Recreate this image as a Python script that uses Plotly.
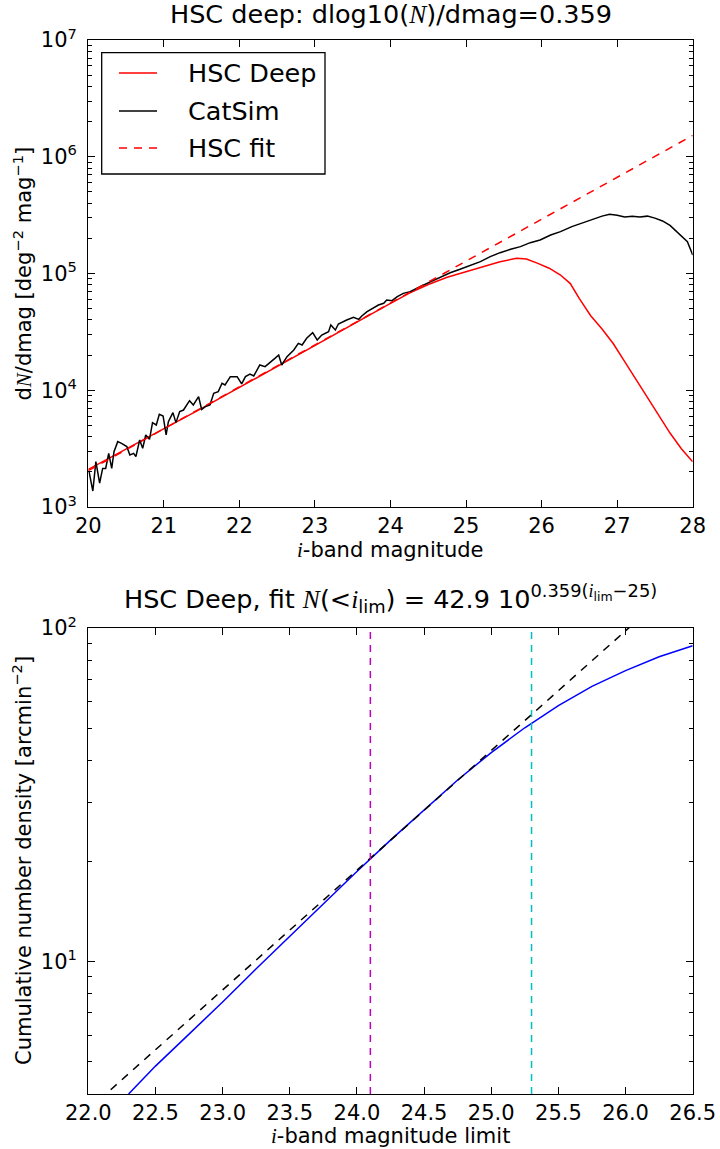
import numpy as np
import plotly.graph_objects as go

# ---------------- top panel data ----------------
hsc_mag = [20.00, 20.25, 20.50, 20.75, 21.00, 21.25, 21.50, 21.75, 22.00, 22.25,
           22.50, 22.75, 23.00, 23.25, 23.50, 23.75, 24.00, 24.25, 24.50, 24.75,
           25.00, 25.25, 25.45, 25.67, 25.80, 25.95, 26.10, 26.25, 26.38, 26.50,
           26.65, 26.80, 26.95, 27.10, 27.25, 27.40, 27.55, 27.70, 27.85, 28.00]
hsc_dn = [2100, 2560, 3150, 3820, 4700, 5700, 7000, 8600, 10600, 13000,
          16000, 19800, 24300, 30000, 36800, 45200, 55500, 68000, 80500, 93000,
          104000, 115000, 126000, 135000, 133000, 122000, 111000, 97000, 82000, 61000,
          43500, 33500, 25000, 17600, 12300, 8600, 6000, 4300, 3160, 2440]

catsim_mag = [20.01, 20.06, 20.10, 20.15, 20.19, 20.23, 20.27, 20.31, 20.34, 20.39,
              20.44, 20.51, 20.55, 20.60, 20.63, 20.68, 20.72, 20.76, 20.81, 20.85,
              20.90, 20.94, 20.99, 21.03, 21.06, 21.12, 21.16, 21.21, 21.26, 21.34,
              21.39, 21.46, 21.50, 21.55, 21.61, 21.66, 21.72, 21.77, 21.81, 21.88,
              21.97, 22.03, 22.08, 22.14, 22.19, 22.27, 22.34, 22.41, 22.47, 22.52,
              22.56, 22.63, 22.72, 22.78, 22.83, 22.89, 22.97, 23.03, 23.09, 23.18,
              23.21, 23.27, 23.31, 23.42, 23.51, 23.58, 23.62, 23.69, 23.78, 23.84,
              23.91, 23.95, 24.02, 24.09, 24.17, 24.26, 24.39, 24.53, 24.66, 24.79,
              24.92, 25.06, 25.19, 25.32, 25.45, 25.59, 25.72, 25.85, 25.98, 26.12,
              26.25, 26.40, 26.60, 26.80, 26.90, 27.00, 27.10, 27.20, 27.30, 27.40,
              27.50, 27.60, 27.70, 27.79, 27.87, 27.93, 28.00]
catsim_dn = [2010, 1370, 2450, 1600, 2140, 2140, 2880, 2140, 2980, 3630,
             3510, 3290, 2790, 2880, 2700, 3750, 3180, 4140, 3800, 5280,
             5040, 6220, 6020, 4140, 5380, 6430, 5280, 6560, 6770, 8140,
             7480, 8810, 6860, 7240, 7480, 9410, 9730, 11470, 11090, 13080,
             13080, 11320, 13080, 13780, 13250, 16450, 15920, 17570, 18760, 20050,
             16450, 19400, 22120, 25230, 24410, 27850, 31150, 26950, 29730, 31760,
             36220, 32820, 36940, 39960, 42130, 40500, 43250, 47120, 50980, 53730,
             55530, 59320, 58530, 63330, 67630, 69900, 77100, 85100, 93900, 101600,
             108600, 118300, 126300, 139400, 150800, 161100, 169800, 183700, 193600, 213700,
             228200, 252000, 280000, 310000, 322000, 316000, 305000, 310000, 305000, 310000,
             298000, 282000, 258000, 228000, 205000, 187000, 144000]

fit_mag = [20.0, 28.0]
fit_dn = [2046, 1.523e6]

legend_names = ["HSC Deep", "CatSim", "HSC fit"]
legend_colors = ["#ff0000", "#000000", "#ff0000"]
legend_dashes = ["solid", "solid", "8px,7px"]

top_xticks = [20, 21, 22, 23, 24, 25, 26, 27, 28]
top_yticks = [1e3, 1e4, 1e5, 1e6, 1e7]
top_yticktext = ["10<sup>3</sup>", "10<sup>4</sup>", "10<sup>5</sup>", "10<sup>6</sup>", "10<sup>7</sup>"]

# ---------------- bottom panel data ----------------
cum_mag = [22.30, 22.50, 22.75, 23.00, 23.25, 23.50, 23.75, 24.00, 24.25, 24.50,
           24.75, 25.00, 25.25, 25.50, 25.75, 26.00, 26.25, 26.50]
cum_n = [4.00, 4.85, 6.05, 7.55, 9.50, 11.9, 14.9, 18.6, 23.1, 28.5,
         35.0, 42.3, 50.2, 58.5, 66.8, 74.5, 82.0, 88.5]
cumfit_mag = [22.0, 26.5]
cumfit_n = [3.59, 148.3]
vline_mags = [24.1, 25.3]
vline_colors = ["#bf00bf", "#00bfbf"]

bot_yticks = [10, 100]
bot_yticktext = ["10<sup>1</sup>", "10<sup>2</sup>"]

# ---------------- geometry ----------------
W, H = 720, 1149
def px(x):
    return x / W
def py(y):
    return 1 - y / H

L, R = 88.3, 692.7
T1, B1 = 40, 507
T2, B2 = 628, 1094

FONT = "DejaVu Sans"
MATH = "font-family:Liberation Serif;font-style:italic"
TICK = 21
LABEL = 21
BIG = 25.5

def mi(s):
    return f'<span style="{MATH}">{s}</span>'

fig = go.Figure()

fig.add_trace(go.Scatter(x=hsc_mag, y=hsc_dn, mode="lines", name=legend_names[0],
                         line=dict(color=legend_colors[0], width=1.5, dash=legend_dashes[0]),
                         xaxis="x", yaxis="y", showlegend=False))
fig.add_trace(go.Scatter(x=catsim_mag, y=catsim_dn, mode="lines", name=legend_names[1],
                         line=dict(color=legend_colors[1], width=1.5, dash=legend_dashes[1]),
                         xaxis="x", yaxis="y", showlegend=False))
fig.add_trace(go.Scatter(x=fit_mag, y=fit_dn, mode="lines", name=legend_names[2],
                         line=dict(color=legend_colors[2], width=1.5, dash=legend_dashes[2]),
                         xaxis="x", yaxis="y", showlegend=False))

fig.add_trace(go.Scatter(x=cum_mag, y=cum_n, mode="lines", showlegend=False,
                         line=dict(color="#0000ff", width=1.5),
                         xaxis="x2", yaxis="y2"))
fig.add_trace(go.Scatter(x=cumfit_mag, y=cumfit_n, mode="lines", showlegend=False,
                         line=dict(color="#000000", width=1.5, dash="8px,7px"),
                         xaxis="x2", yaxis="y2"))

for v, c in zip(vline_mags, vline_colors):
    fig.add_shape(type="line", xref="x2", yref="y2 domain", x0=v, x1=v, y0=0, y1=1,
                  line=dict(color=c, width=1.5, dash="7px,6px"))

axis_common = dict(showline=True, linecolor="black", linewidth=1.3, mirror="ticks",
                   ticks="inside", ticklen=7, tickwidth=1.2, tickcolor="black",
                   showgrid=False, zeroline=False, automargin=False,
                   tickfont=dict(family=FONT, size=TICK, color="black"))

minor_top = [k * 10 ** d for d in range(3, 7) for k in range(2, 10)]
minor_bot = [k for k in range(4, 10)] + [k * 10 for k in range(2, 10)]

fig.update_layout(
    width=W, height=H,
    margin=dict(l=0, r=0, t=0, b=0),
    paper_bgcolor="white", plot_bgcolor="white",
    font=dict(family=FONT, color="black"),
    showlegend=False,
    xaxis=dict(domain=[px(L), px(R)], anchor="y", range=[20, 28],
               tickmode="array", tickvals=top_xticks, ticklabelstandoff=0, **axis_common),
    yaxis=dict(domain=[py(B1), py(T1)], anchor="x", type="log", range=[3, 7],
               tickmode="array", tickvals=top_yticks, ticktext=top_yticktext,
               ticklabelstandoff=6,
               minor=dict(tickmode="array", tickvals=minor_top, ticks="inside",
                          ticklen=3.5, tickcolor="black", tickwidth=1, showgrid=False),
               **axis_common),
    xaxis2=dict(domain=[px(L), px(R)], anchor="y2", range=[22, 26.5],
                tickmode="linear", tick0=22, dtick=0.5, tickformat=".1f",
                ticklabelstandoff=0, **axis_common),
    yaxis2=dict(domain=[py(B2), py(T2)], anchor="x2", type="log",
                range=[np.log10(4.0), 2],
                tickmode="array", tickvals=bot_yticks, ticktext=bot_yticktext,
                ticklabelstandoff=6,
                minor=dict(tickmode="array", tickvals=minor_bot, ticks="inside",
                           ticklen=3.5, tickcolor="black", tickwidth=1, showgrid=False),
                **axis_common),
)

# legend box (drawn like the matplotlib legend)
LEG_L, LEG_R, LEG_T, LEG_B = 101.7, 325, 52.7, 174
fig.add_shape(type="rect", xref="paper", yref="paper",
              x0=px(LEG_L), x1=px(LEG_R), y0=py(LEG_B), y1=py(LEG_T),
              line=dict(color="black", width=1.3), fillcolor="white", layer="above")
row_y = [73, 111, 148]
ann = []
for name, col, dsh, yy in zip(legend_names, legend_colors, legend_dashes, row_y):
    fig.add_shape(type="line", xref="paper", yref="paper",
                  x0=px(119), x1=px(157), y0=py(yy), y1=py(yy),
                  line=dict(color=col, width=1.5, dash=dsh), layer="above")
    ann.append(dict(text=name, x=px(186), y=py(yy), xanchor="left", yanchor="middle",
                    font=dict(size=BIG)))

cx = px((L + R) / 2)
# titles
ann.append(dict(text=f"HSC deep: dlog10({mi('N')})/dmag=0.359", x=cx, y=py(31),
                yanchor="bottom", font=dict(size=BIG)))
ann.append(dict(text=(f"HSC Deep, fit {mi('N')}(&lt;{mi('i')}<sub>lim</sub>) = 42.9 "
                      f"10<sup>0.359({mi('i')}<sub>lim</sub>−25)</sup>"),
                x=cx, y=py(619), yanchor="bottom", font=dict(size=BIG)))
# x labels
ann.append(dict(text=f"{mi('i')}-band magnitude", x=cx, y=py(550), yanchor="middle",
                font=dict(size=LABEL)))
ann.append(dict(text=f"{mi('i')}-band magnitude limit", x=cx, y=py(1136), yanchor="middle",
                font=dict(size=LABEL)))
# y labels
ann.append(dict(text=f"d{mi('N')}/dmag [deg<sup>−2</sup> mag<sup>−1</sup>]",
                x=px(22), y=py((T1 + B1) / 2), textangle=-90, xanchor="center",
                yanchor="middle", font=dict(size=LABEL)))
ann.append(dict(text="Cumulative number density [arcmin<sup>−2</sup>]",
                x=px(22), y=py((T2 + B2) / 2), textangle=-90, xanchor="center",
                yanchor="middle", font=dict(size=LABEL)))
for a in ann:
    a.setdefault("xanchor", "center")
    a.update(xref="paper", yref="paper", showarrow=False)
    a["font"].update(family=FONT, color="black")
    fig.add_annotation(**a)

fig.write_html("out.html", config={"displayModeBar": False},
               post_script="document.body.style.margin='0px';document.body.style.overflow='hidden';")
